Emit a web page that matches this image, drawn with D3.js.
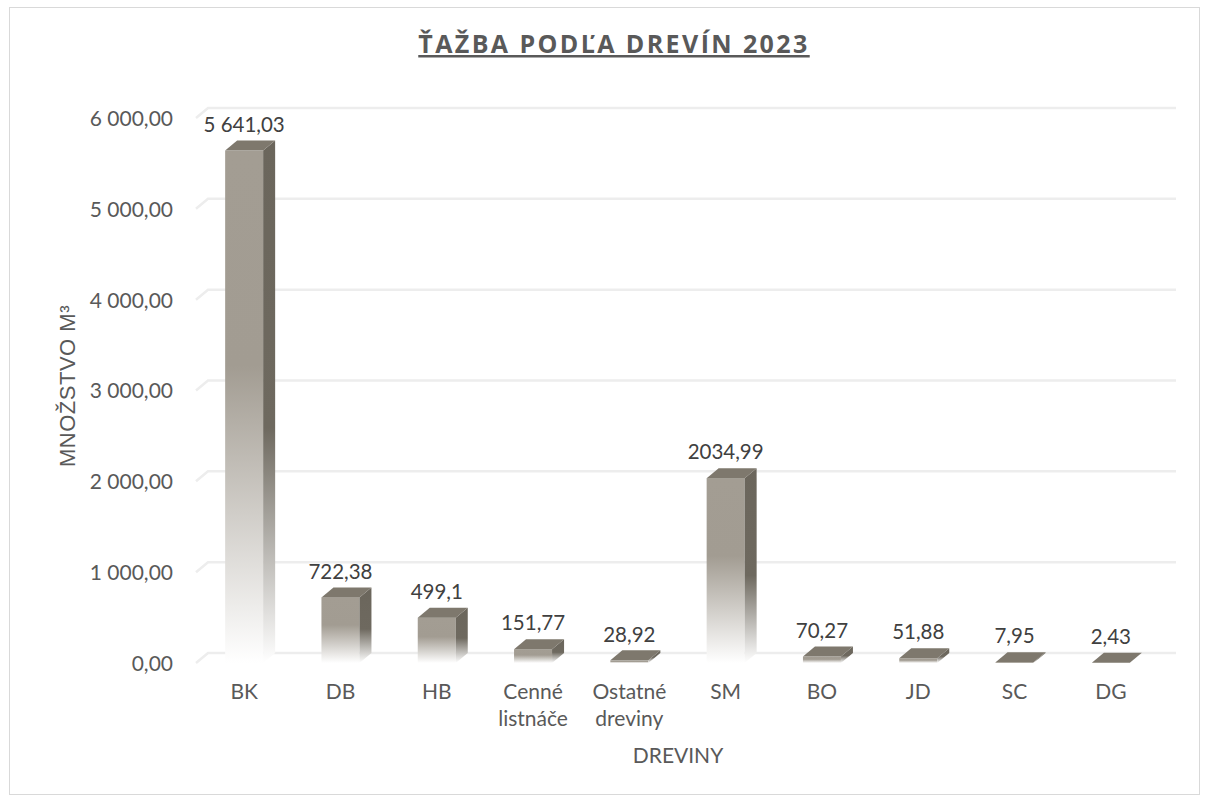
<!DOCTYPE html>
<html><head><meta charset="utf-8">
<script src="https://cdn.jsdelivr.net/npm/d3@7"></script>
<style>
html,body{margin:0;padding:0;background:#fff;}
svg{display:block;}
</style></head>
<body>
<script>
const categories = ["BK","DB","HB","Cenné listnáče","Ostatné dreviny","SM","BO","JD","SC","DG"];
const values = [5641.03, 722.38, 499.1, 151.77, 28.92, 2034.99, 70.27, 51.88, 7.95, 2.43];
const valueLabels = ["5 641,03","722,38","499,1","151,77","28,92","2034,99","70,27","51,88","7,95","2,43"];
const yTicks = [0, 1000, 2000, 3000, 4000, 5000, 6000];
const title = "ŤAŽBA PODĽA DREVÍN 2023";
const yTitle = "MNOŽSTVO M³";
const xTitle = "DREVINY";

const W = 1208, H = 802;
const svg = d3.select("body").append("svg").attr("width", W).attr("height", H);

// frame
svg.append("rect").attr("x", 9.5).attr("y", 7.5).attr("width", 1190).attr("height", 787)
  .attr("fill", "#fff").attr("stroke", "#d9d9d9").attr("stroke-width", 1);

const locale = d3.formatLocale({decimal: ",", thousands: " ", grouping: [3], currency: ["", ""]});
const fmt = locale.format(",.2f");

const x = d3.scaleBand().domain(categories).range([196, 1159]).padding(0);
const y = d3.scaleLinear().domain([0, 6000]).range([663, 118]);
const dx = 12, dy = -10;
const bw = 38;

const defs = svg.append("defs");
const gf = defs.append("linearGradient").attr("id", "gFront").attr("x1", 0).attr("y1", 0).attr("x2", 0).attr("y2", 1);
gf.append("stop").attr("offset", "0%").attr("stop-color", "#a39d93");
gf.append("stop").attr("offset", "42%").attr("stop-color", "#a29c92");
gf.append("stop").attr("offset", "100%").attr("stop-color", "#ffffff");
const gs = defs.append("linearGradient").attr("id", "gSide").attr("x1", 0).attr("y1", 0).attr("x2", 0).attr("y2", 1);
gs.append("stop").attr("offset", "0%").attr("stop-color", "#6b665c");
gs.append("stop").attr("offset", "55%").attr("stop-color", "#6e695f");
gs.append("stop").attr("offset", "100%").attr("stop-color", "#ffffff");

// gridlines (3D floor/wall style)
const grid = svg.append("g");
yTicks.forEach(t => {
  const yf = y(t);
  grid.append("path")
    .attr("d", `M${x.range()[0]},${yf} L${x.range()[0] + dx},${yf + dy} L${x.range()[1] + dx + 5},${yf + dy}`)
    .attr("fill", "none").attr("stroke", "#ededed").attr("stroke-width", 2.5);
});

// y axis labels
const yAxis = d3.axisLeft(y).tickValues(yTicks).tickSize(0).tickPadding(0).tickFormat(d => fmt(d));
const ya = svg.append("g").attr("transform", "translate(173,0)").call(yAxis);
ya.select(".domain").remove();
ya.selectAll("text").attr("font-family", "Lato, sans-serif").attr("font-size", 21).attr("fill", "#595959").attr("dy", "0.35em");

// bars
const bars = svg.append("g").selectAll("g").data(categories).join("g");
bars.each(function(c, i) {
  const g = d3.select(this);
  const x0 = x(c) + x.bandwidth() / 2 - bw / 2;
  const yv = y(values[i]);
  const y0 = y(0);
  if (y0 - yv > 0.5) {
    g.append("rect").attr("x", x0).attr("y", yv).attr("width", bw).attr("height", y0 - yv).attr("fill", "url(#gFront)");
    g.append("path").attr("d", `M${x0 + bw},${yv} L${x0 + bw + dx},${yv + dy} L${x0 + bw + dx},${y0 + dy} L${x0 + bw},${y0} Z`)
      .attr("fill", "url(#gSide)");
  }
  g.append("path").attr("d", `M${x0},${yv} L${x0 + dx},${yv + dy} L${x0 + bw + dx},${yv + dy} L${x0 + bw},${yv} Z`)
    .attr("fill", "#7e786d");
  g.append("text").attr("x", x(c) + x.bandwidth() / 2).attr("y", yv - 26).attr("dy", "0.35em")
    .attr("text-anchor", "middle").attr("font-family", "Lato, sans-serif").attr("font-size", 20.5).attr("fill", "#404040")
    .text(valueLabels[i]);
});

// x axis labels
const xa = svg.append("g");
categories.forEach(c => {
  const words = c.split(" ");
  words.forEach((w, k) => {
    xa.append("text").attr("x", x(c) + x.bandwidth() / 2).attr("y", 692 + k * 27).attr("dy", "0.35em")
      .attr("text-anchor", "middle").attr("font-family", "Lato, sans-serif").attr("font-size", 21).attr("fill", "#595959")
      .text(w);
  });
});

// axis titles
svg.append("text").attr("x", 678).attr("y", 756).attr("dy", "0.35em").attr("text-anchor", "middle")
  .attr("font-family", "Lato, sans-serif").attr("font-size", 21).attr("fill", "#595959").text(xTitle);
svg.append("text").attr("transform", "translate(67,386) rotate(-90)").attr("dy", "0.35em").attr("text-anchor", "middle")
  .attr("font-family", "'Liberation Sans', Arial, sans-serif").attr("font-size", 22).attr("letter-spacing", 0.5)
  .attr("fill", "#595959").text(yTitle);

// title
svg.append("text").attr("x", 614).attr("y", 53).attr("text-anchor", "middle")
  .attr("font-family", "'Open Sans', sans-serif").attr("font-weight", "bold").attr("font-size", 25)
  .attr("letter-spacing", 2.4).attr("fill", "#595959").attr("text-decoration", "underline").text(title);
</script>
</body></html>
